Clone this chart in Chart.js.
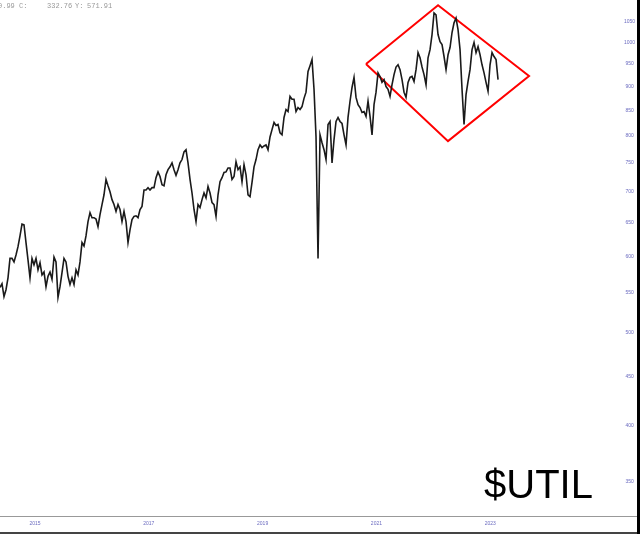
<!DOCTYPE html>
<html>
<head>
<meta charset="utf-8">
<script src="https://cdn.jsdelivr.net/npm/chart.js@4.4.1/dist/chart.umd.min.js"></script>
<style>
  html, body { margin: 0; padding: 0; background: #fff; }
  #wrap { width: 640px; height: 534px; }
</style>
</head>
<body>
<div id="wrap"><canvas id="chart" width="640" height="534"></canvas></div>
<script>
// closing values, one every ~2 weeks
const startYear = 2014.385;
const stepYears = 0.03515;
const closes = [
  557, 562, 545, 554, 570, 597, 597, 592, 602, 614,
  630, 648, 647, 620, 595, 570, 597, 588, 597, 581,
  591, 574, 578, 558, 572, 578, 568, 599, 592, 544,
  558, 577, 597, 592, 572, 561, 570, 561, 581, 574,
  592, 620, 615, 630, 652, 666, 658, 658, 656, 644,
  663, 679, 695, 721, 710, 700, 687, 679, 668, 679,
  671, 652, 668, 652, 620, 639, 655, 660, 661, 658,
  671, 676, 703, 703, 707, 703, 707, 707, 724, 734,
  726, 712, 710, 729, 738, 743, 750, 738, 728, 738,
  750, 756, 770, 774, 750, 721, 698, 671, 652, 679,
  674, 687, 698, 690, 709, 698, 682, 679, 660, 695,
  717, 724, 733, 734, 741, 741, 721, 726, 752, 738,
  743, 717, 747, 729, 695, 692, 716, 743, 756, 774,
  783, 778, 781, 783, 774, 798, 812, 826, 820, 822,
  806, 802, 836, 852, 848, 879, 873, 873, 848, 856,
  852, 858, 875, 888, 933, 946, 960, 894, 798, 597,
  802, 787, 774, 756, 822, 828, 750, 793, 828, 836,
  828, 824, 802, 783, 836, 869, 898, 920, 877, 862,
  856, 846, 848, 838, 869, 838, 802, 862, 888, 930,
  922, 909, 915, 900, 894, 879, 904, 926, 943, 948,
  937, 915, 888, 877, 909, 920, 922, 911, 937, 976,
  964, 943, 926, 904, 964, 983, 1019, 1073, 1068, 1019,
  1002, 995, 967, 937, 971, 988, 1024, 1048, 1060, 1031,
  983, 894, 822, 883, 911, 937, 983, 1000, 976, 990,
  971, 948, 930, 909, 890, 948, 976, 967, 960, 915
];

const yearTicks = [2015, 2017, 2019, 2021, 2023];
const priceTicks = [350, 400, 450, 500, 550, 600, 650, 700, 750, 800, 850, 900, 950, 1000, 1050];

// red diamond drawn over the chart
const boxYears = [2020.817, 2022.083, 2023.682, 2022.258, 2020.817];
const boxPrices = [950, 1093, 923, 790, 950];

const priceSeries = closes.map((v, i) => ({ x: startYear + i * stepYears, y: v }));
const boxSeries = boxYears.map((x, i) => ({ x: x, y: boxPrices[i] }));

const tickColor = "#6c6cc0";

const frame = {
  id: "frame",
  afterDraw(chart) {
    const c = chart.ctx;
    c.save();
    c.fillStyle = "#999";
    c.fillRect(0, 516, 637, 1);
    c.fillStyle = "#444";
    c.fillRect(0, 532, 640, 2);
    c.fillStyle = "#000";
    c.fillRect(637, 0, 3, 534);

    c.fillStyle = "#000";
    c.font = '40px "Liberation Sans", Arial, sans-serif';
    c.textBaseline = "alphabetic";
    c.fillText("$UTIL", 484, 498);

    c.fillStyle = "#999";
    c.font = '7px "Liberation Mono", monospace';
    c.fillText("0.99 C:", -2, 8);
    c.fillText("332.76", 47, 8);
    c.fillText("Y:", 75, 8);
    c.fillText("571.91", 87, 8);
    c.restore();
  },
};

const ctx = document.getElementById("chart").getContext("2d");
new Chart(ctx, {
  type: "line",
  data: {
    datasets: [
      {
        data: priceSeries,
        borderColor: "#1a1a1a",
        borderWidth: 1.6,
        pointRadius: 0,
        tension: 0,
      },
      {
        data: boxSeries,
        borderColor: "#ff0000",
        borderWidth: 2,
        pointRadius: 0,
        tension: 0,
      },
    ],
  },
  options: {
    responsive: false,
    animation: false,
    devicePixelRatio: 1,
    layout: { padding: 0, autoPadding: false },
    plugins: {
      legend: { display: false },
      tooltip: { enabled: false },
    },
    scales: {
      x: {
        type: "linear",
        min: 2014.385,
        max: 2025.351,
        grid: { display: false, drawTicks: false },
        border: { display: false },
        afterBuildTicks: (s) => {
          s.ticks = yearTicks.map((v) => ({ value: v }));
        },
        afterFit: (s) => {
          s.height = 18;
          s.paddingLeft = 0;
          s.paddingRight = 0;
        },
        ticks: {
          padding: 5,
          color: tickColor,
          autoSkip: false,
          maxRotation: 0,
          font: { size: 5, family: "Liberation Sans" },
          callback: (v) => String(v),
        },
      },
      y: {
        type: "logarithmic",
        position: "right",
        min: 322.7,
        max: 1106.7,
        grid: { display: false, drawTicks: false },
        border: { display: false },
        afterBuildTicks: (s) => {
          s.ticks = priceTicks.map((v) => ({ value: v }));
        },
        afterFit: (s) => {
          s.width = 16;
          s.paddingTop = 0;
          s.paddingBottom = 0;
        },
        ticks: {
          crossAlign: "center",
          padding: 0,
          color: tickColor,
          autoSkip: false,
          font: { size: 5, family: "Liberation Sans" },
          callback: (v) => String(v),
        },
      },
    },
  },
  plugins: [frame],
});
</script>
</body>
</html>
